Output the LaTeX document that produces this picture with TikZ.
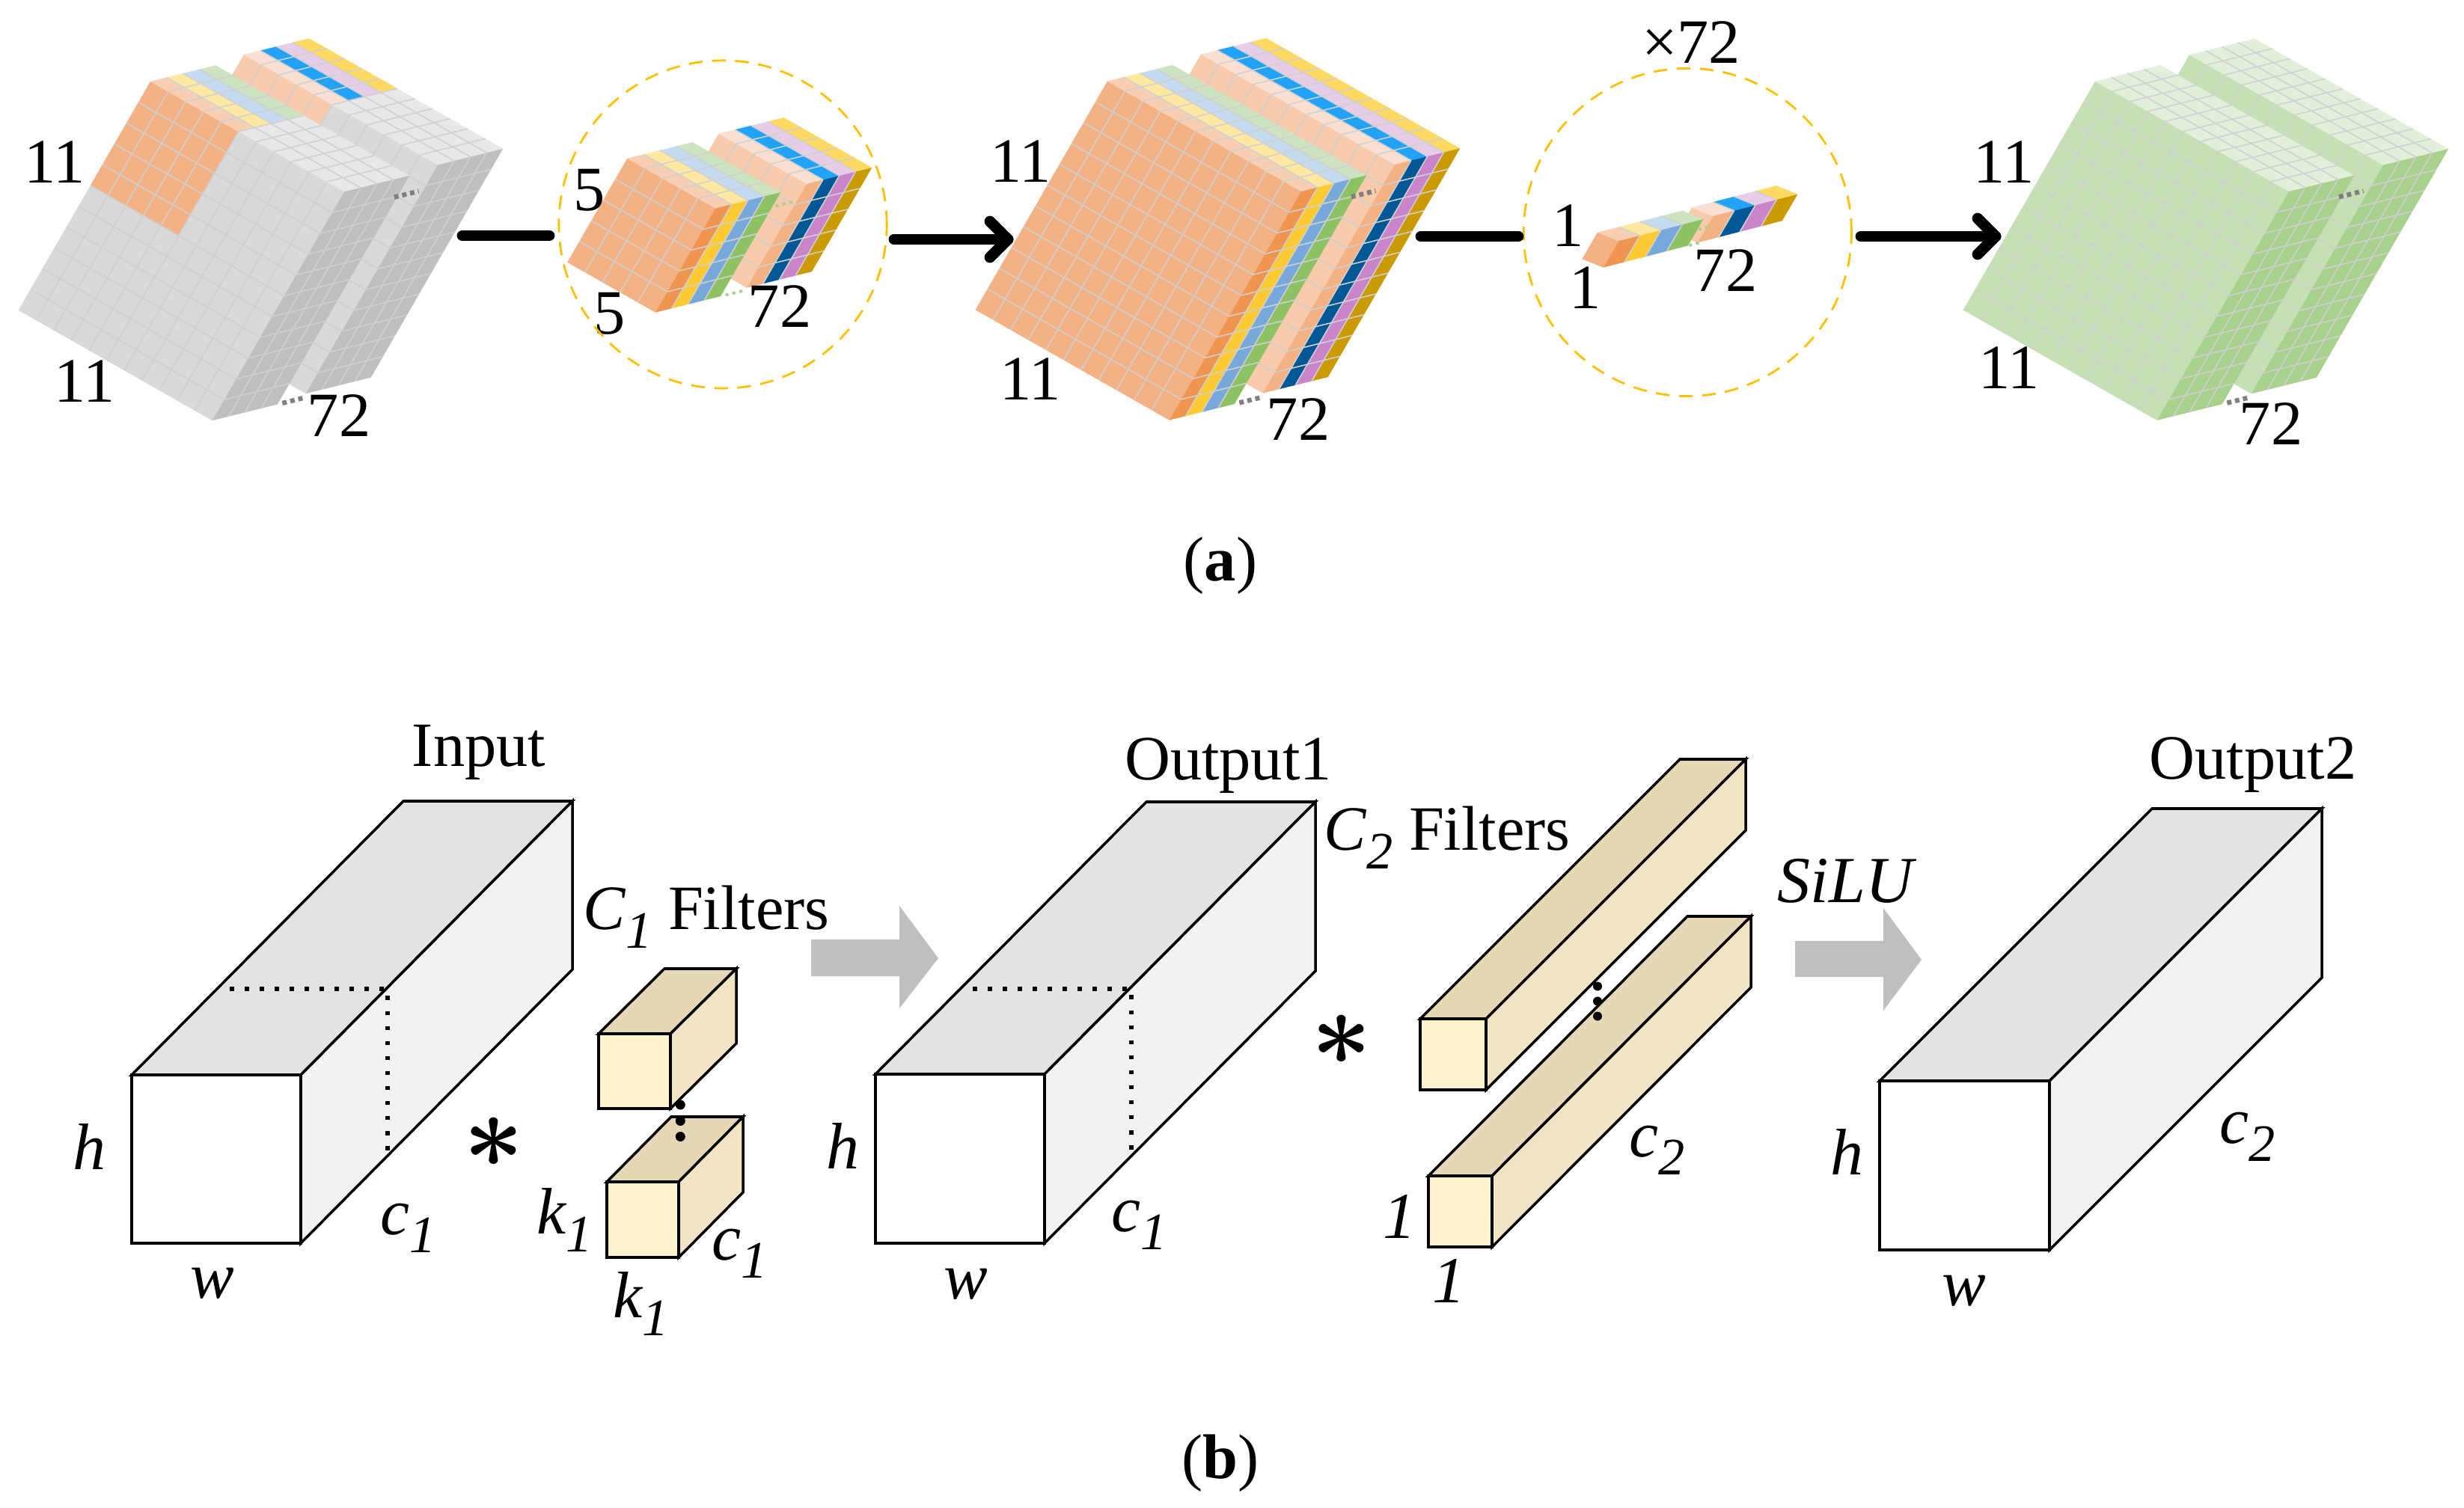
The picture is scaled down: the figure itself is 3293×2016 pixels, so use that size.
\RequirePackage{fix-cm}
\documentclass[tikz,border=0pt]{standalone}
\usepackage{bm}
\usepackage{fontspec}
\setmainfont{Liberation Serif}
\usetikzlibrary{calc}
\definecolor{frA}{HTML}{F4B183}
\definecolor{frB}{HTML}{F7CBAB}
\definecolor{topA}{HTML}{F8CFB2}
\definecolor{topB}{HTML}{FFE8A1}
\definecolor{topC}{HTML}{C5DCF0}
\definecolor{topD}{HTML}{CEE4C0}
\definecolor{topE}{HTML}{FAE0D2}
\definecolor{topF}{HTML}{22A3F8}
\definecolor{topG}{HTML}{E8CDE8}
\definecolor{topH}{HTML}{FFD962}
\definecolor{sidA}{HTML}{F0954F}
\definecolor{sidB}{HTML}{FFCB33}
\definecolor{sidC}{HTML}{76A8D9}
\definecolor{sidD}{HTML}{8CC164}
\definecolor{sidE}{HTML}{F4B183}
\definecolor{sidF}{HTML}{005796}
\definecolor{sidG}{HTML}{CA85CA}
\definecolor{sidH}{HTML}{CA9A00}
\definecolor{gF}{HTML}{D9D9D9}
\definecolor{gT}{HTML}{E8E8E8}
\definecolor{gS}{HTML}{BFBFBF}
\definecolor{nF}{HTML}{C5E0B4}
\definecolor{nT}{HTML}{E2EFDA}
\definecolor{nS}{HTML}{A9D18E}
\definecolor{bT}{HTML}{E3E3E3}
\definecolor{bS}{HTML}{F2F2F2}
\definecolor{fF}{HTML}{FFF2CC}
\definecolor{fT}{HTML}{E6D8B5}
\definecolor{fS}{HTML}{F3E5C3}
\definecolor{gridc}{HTML}{D0D0D0}
\definecolor{dotg}{HTML}{808080}
\definecolor{dotgr}{HTML}{A9D18E}
\definecolor{circc}{HTML}{FFC000}
\definecolor{garrowc}{HTML}{BFBFBF}
\newcommand\tf{\fontsize{24}{28}\selectfont}
\newcommand\itf{\fontsize{25}{29}\selectfont\itshape}
\newcommand\sbs[1]{\raisebox{-7pt}{\fontsize{20}{24}\selectfont\itshape #1}}
\newcommand\bigast{{\fontsize{40}{44}\selectfont$\bm{\ast}$}}
% parallelogram fill: origin, vec a, na, vec b, nb, colour
\newcommand\myfill[6]{%
  \fill[fill=#6] (#1) -- ($(#1)+#3*(#2)$) -- ($(#1)+#3*(#2)+#5*(#4)$) -- ($(#1)+#5*(#4)$) -- cycle;}
% interior grid lines
\newcommand\mygrid[5]{%
  \pgfmathtruncatemacro\myna{#3-1}%
  \pgfmathtruncatemacro\mynb{#5-1}%
  \ifnum\myna>0
    \foreach \ii in {1,...,\myna}{\draw[gl] ($(#1)+\ii*(#2)$) -- ($(#1)+\ii*(#2)+#5*(#4)$);}%
  \fi
  \ifnum\mynb>0
    \foreach \jj in {1,...,\mynb}{\draw[gl] ($(#1)+\jj*(#4)$) -- ($(#1)+\jj*(#4)+#3*(#2)$);}%
  \fi}
\newcommand\mfront[4]{\myfill{#1}{U}{#2}{V}{#3}{#4}}
\newcommand\mtop[3]{%
  \foreach \cc [count=\kk from 0] in {#3}{%
    \coordinate (tmpo) at ($(#1)+\kk*(W)$);
    \myfill{tmpo}{U}{#2}{W}{1}{\cc}}}
\newcommand\mside[4]{%
  \foreach \cc [count=\kk from 0] in {#4}{%
    \coordinate (tmpo) at ($(#1)+#2*(U)+\kk*(W)$);
    \myfill{tmpo}{W}{1}{V}{#3}{\cc}}}
\newcommand\mgrids[3]{%
  \mygrid{#1}{U}{#2}{V}{#3}%
  \mygrid{#1}{U}{#2}{W}{4}%
  \coordinate (tmpr) at ($(#1)+#2*(U)$);
  \mygrid{tmpr}{W}{4}{V}{#3}}
% prism: x, y, w, h, dx, dy(up), front, top, side
\newcommand\prism[9]{%
  \filldraw[boxline,fill=#8] (#1,#2) -- (#1+#5,#2-#6) -- (#1+#3+#5,#2-#6) -- (#1+#3,#2) -- cycle;
  \filldraw[boxline,fill=#9] (#1+#3,#2) -- (#1+#3+#5,#2-#6) -- (#1+#3+#5,#2+#4-#6) -- (#1+#3,#2+#4) -- cycle;
  \filldraw[boxline,fill=#7] (#1,#2) rectangle (#1+#3,#2+#4);}
\begin{document}
\begin{tikzpicture}[x=0.01cm,y=-0.01cm,
  gl/.style={draw=gridc, line width=0.45pt},
  gdots/.style={draw=dotg, line width=1.8pt, dash pattern=on 1.7pt off 1.4pt},
  grdots/.style={draw=dotgr, line width=1.1pt, dash pattern=on 1.2pt off 1.5pt},
  conn/.style={line width=4.2pt, line cap=round, line join=round},
  circ/.style={circle, draw=circc, line width=0.8pt, dash pattern=on 5.2pt off 3.6pt, minimum size=4.38cm, inner sep=0pt},
  boxline/.style={line width=1pt, draw=black},
  dotl/.style={line width=1.6pt, dash pattern=on 1.6pt off 4.1pt},
  lbl/.style={inner sep=0pt, anchor=base, font=\tf},
  ilbl/.style={inner sep=0pt, anchor=base, font=\itf},
  ]
\useasboundingbox (0,0) rectangle (3293,2016);

% ================= (a) =================
\coordinate (U) at (23.55,13.4);
\coordinate (V) at (-16.04,27.8);
\coordinate (W) at (21.8,-5.4);

% ---- block 1 (input, grey with kernel) ----
\coordinate (A1) at (201,109);
\coordinate (A1b) at ($(A1)+(125,-36)$);
\mfront{A1b}{11}{11}{gF}
\mfront{A1b}{5}{5}{frB}
\mtop{A1b}{11}{gT,gT,gT,gT}
\mtop{A1b}{5}{topE,topF,topG,topH}
\mside{A1b}{11}{11}{gS,gS,gS,gS}
\mgrids{A1b}{11}{11}
\mfront{A1}{11}{11}{gF}
\mfront{A1}{5}{5}{frA}
\mtop{A1}{11}{gT,gT,gT,gT}
\mtop{A1}{5}{topA,topB,topC,topD}
\mside{A1}{11}{11}{gS,gS,gS,gS}
\mgrids{A1}{11}{11}
\draw[gdots] ($(A1)+11*(U)+(V)+3.8*(W)$) -- ($(A1)+11*(U)+(V)+5.3*(W)$);
\draw[gdots] ($(A1)+11*(U)+11*(V)+4.3*(W)$) -- ($(A1)+11*(U)+11*(V)+5.7*(W)$);
\node[lbl] (b1l) at (73.5,245) {11};
\node[lbl] (b1b) at (113,538) {11};
\node[lbl] (b1c) at (453,584) {72};

% ---- block 2 (kernel) ----
\coordinate (A2) at (838.3,211.7);
\coordinate (A2b) at ($(A2)+(122,-33)$);
\mfront{A2b}{5}{5}{frB}
\mtop{A2b}{5}{topE,topF,topG,topH}
\mside{A2b}{5}{5}{sidE,sidF,sidG,sidH}
\mgrids{A2b}{5}{5}
\mfront{A2}{5}{5}{frA}
\mtop{A2}{5}{topA,topB,topC,topD}
\mside{A2}{5}{5}{sidA,sidB,sidC,sidD}
\mgrids{A2}{5}{5}
\draw[grdots] ($(A2)+5*(U)+0.7*(V)+4.2*(W)$) -- ($(A2)+5*(U)+0.7*(V)+5.3*(W)$);
\draw[grdots] ($(A2)+5*(U)+5*(V)+4.3*(W)$) -- ($(A2)+5*(U)+5*(V)+5.4*(W)$);
\node[lbl] (b2l) at (788,282) {5};
\node[lbl] (b2b) at (815,447) {5};
\node[lbl] (b2c) at (1042,438) {72};
\node[circ] (c1) at (966,300) {};

% ---- block 3 (depthwise output) ----
\coordinate (A3) at (1480,108.5);
\coordinate (A3b) at ($(A3)+(125,-36)$);
\mfront{A3b}{11}{11}{frB}
\mtop{A3b}{11}{topE,topF,topG,topH}
\mside{A3b}{11}{11}{sidE,sidF,sidG,sidH}
\mgrids{A3b}{11}{11}
\mfront{A3}{11}{11}{frA}
\mtop{A3}{11}{topA,topB,topC,topD}
\mside{A3}{11}{11}{sidA,sidB,sidC,sidD}
\mgrids{A3}{11}{11}
\draw[gdots] ($(A3)+11*(U)+(V)+3.8*(W)$) -- ($(A3)+11*(U)+(V)+5.3*(W)$);
\draw[gdots] ($(A3)+11*(U)+11*(V)+4.3*(W)$) -- ($(A3)+11*(U)+11*(V)+5.7*(W)$);
\node[lbl] (b3l) at (1364,244) {11};
\node[lbl] (b3b) at (1377,535) {11};
\node[lbl] (b3c) at (1735,589) {72};

% ---- block 5 (green output) ----
\coordinate (A5) at (2800,108.7);
\coordinate (A5b) at ($(A5)+(126,-35.5)$);
\mfront{A5b}{11}{11}{nF}
\mtop{A5b}{11}{nT,nT,nT,nT}
\mside{A5b}{11}{11}{nS,nS,nS,nS}
\mgrids{A5b}{11}{11}
\mfront{A5}{11}{11}{nF}
\mtop{A5}{11}{nT,nT,nT,nT}
\mside{A5}{11}{11}{nS,nS,nS,nS}
\mgrids{A5}{11}{11}
\draw[gdots] ($(A5)+11*(U)+(V)+3.8*(W)$) -- ($(A5)+11*(U)+(V)+5.3*(W)$);
\draw[gdots] ($(A5)+11*(U)+11*(V)+4.3*(W)$) -- ($(A5)+11*(U)+11*(V)+5.7*(W)$);
\node[lbl] (b5l) at (2678,245) {11};
\node[lbl] (b5b) at (2685,520) {11};
\node[lbl] (b5c) at (3035,595) {72};

% ---- block 4 (pointwise kernel) ----
\coordinate (U) at (28.3,11.5);
\coordinate (V) at (-20.7,35.5);
\coordinate (W) at (28.3,-7.3);
\coordinate (A4) at (2135,310.7);
\coordinate (A4b) at ($(A4)+(126,-33.3)$);
\mfront{A4b}{1}{1}{frB}
\mtop{A4b}{1}{topE,topF,topG,topH}
\mside{A4b}{1}{1}{sidE,sidF,sidG,sidH}
\mgrids{A4b}{1}{1}
\mfront{A4}{1}{1}{frA}
\mtop{A4}{1}{topA,topB,topC,topD}
\mside{A4}{1}{1}{sidA,sidB,sidC,sidD}
\mgrids{A4}{1}{1}
\draw[grdots] ($(A4)+(U)+0.4*(V)+4.05*(W)$) -- ($(A4)+(U)+0.4*(V)+4.6*(W)$);
\draw[grdots] ($(A4)+(U)+(V)+4.05*(W)$) -- ($(A4)+(U)+(V)+4.6*(W)$);
\node[lbl] (b4l) at (2096,330) {1};
\node[lbl] (b4b) at (2119,413) {1};
\node[lbl] (b4c) at (2306,390) {72};
\node[lbl] (b4x) at (2260,85) {×72};
\node[circ] (c2) at (2255.3,310.5) {};

% ---- connectors (a) ----
\coordinate (l1a) at (618,315);
\coordinate (l1b) at (734,315);
\coordinate (l2a) at (1195,320);
\coordinate (l2b) at (1347,320);
\coordinate (l3a) at (1899,316);
\coordinate (l3b) at (2029,316);
\coordinate (l4a) at (2487,316);
\coordinate (l4b) at (2667,316);
\draw[conn] (l1a) -- (l1b);
\draw[conn] (l2a) -- (l2b);
\draw[conn] ($(l2b)+(-24,-24)$) -- (l2b) -- ($(l2b)+(-24,24)$);
\draw[conn] (l3a) -- (l3b);
\draw[conn] (l4a) -- (l4b);
\draw[conn] ($(l4b)+(-24,-24)$) -- (l4b) -- ($(l4b)+(-24,24)$);

\node[lbl] (capa) at (1631,777) {(\textbf{a})};

% ================= (b) =================
% Input
\prism{176}{1437}{226}{225}{363}{366}{white}{bT}{bS}
\draw[dotl] (307,1322) -- (518,1322) -- (518,1545);
\node[lbl] (tin) at (640,1025) {Input};
\node[ilbl] (ih) at (119,1563) {h};
\node[ilbl] (iw) at (284,1735) {w};
\node[ilbl, anchor=base west] (ic) at (508,1650) {c\sbs{1}};

% C1 filters
\prism{800}{1382}{96}{100}{88}{87}{fF}{fT}{fS}
\prism{811}{1580}{96}{101}{86}{87}{fF}{fT}{fS}
\fill (909.3,1477) circle [radius=6.5*0.01cm];
\fill (909.3,1498.5) circle [radius=6.5*0.01cm];
\fill (909.3,1519.5) circle [radius=6.5*0.01cm];
\node[lbl, anchor=base west] (tc1) at (779,1243) {\textit{C}\sbs{1} Filters};
\node[ilbl, anchor=base west] (k1a) at (717,1649) {k\sbs{1}};
\node[ilbl, anchor=base west] (k1b) at (819,1761) {k\sbs{1}};
\node[ilbl, anchor=base west] (kc1) at (951,1684) {c\sbs{1}};
\node[inner sep=0pt] (ast1) at (660,1527) {\bigast};

% grey arrow 1
\fill[garrowc] (1084,1256) -- (1202,1256) -- (1202,1211) -- (1254,1281) -- (1202,1348) -- (1202,1305) -- (1084,1305) -- cycle;

% Output1
\prism{1170}{1436}{226}{226}{362}{364}{white}{bT}{bS}
\draw[dotl] (1300,1322) -- (1512,1322) -- (1512,1545);
\node[lbl] (to1) at (1641.5,1043) {Output1};
\node[ilbl] (oh) at (1126,1562) {h};
\node[ilbl] (ow) at (1291,1736) {w};
\node[ilbl, anchor=base west] (oc) at (1485,1646) {c\sbs{1}};

% C2 filters
\node[lbl, anchor=base west] (tc2) at (1769,1137) {\textit{C}\sbs{2} Filters};
\node[inner sep=0pt] (ast2) at (1793,1390) {\bigast};
\prism{1898}{1362}{88}{95}{347}{347}{fF}{fT}{fS}
\prism{1909}{1572}{85}{95}{346}{347}{fF}{fT}{fS}
\fill (2135,1318.5) circle [radius=6*0.01cm];
\fill (2135,1338.5) circle [radius=6*0.01cm];
\fill (2135,1358.5) circle [radius=6*0.01cm];
\node[ilbl] (l1l) at (1870,1655) {1};
\node[ilbl] (l1b) at (1936,1741) {1};
\node[ilbl, anchor=base west] (lc2) at (2177,1546) {c\sbs{2}};

% grey arrow 2
\fill[garrowc] (2399,1258) -- (2517,1258) -- (2517,1214) -- (2568,1283) -- (2517,1351) -- (2517,1306) -- (2399,1306) -- cycle;
\node[lbl, anchor=base west, font=\itf] (silu) at (2375,1207) {SiLU};

% Output2
\prism{2512}{1445}{227}{226}{364}{364}{white}{bT}{bS}
\node[lbl] (to2) at (3011,1042) {Output2};
\node[ilbl] (o2h) at (2468,1570) {h};
\node[ilbl] (o2w) at (2624.5,1745) {w};
\node[ilbl, anchor=base west] (o2c) at (2966,1528) {c\sbs{2}};

\node[lbl] (capb) at (1631,1976) {(\textbf{b})};
\end{tikzpicture}
\end{document}
